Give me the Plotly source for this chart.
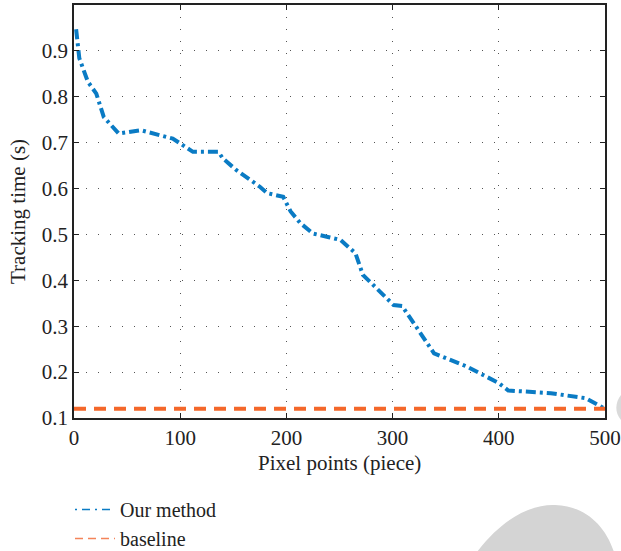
import plotly.graph_objects as go

pixel_points = [2, 5, 13, 21, 28, 42, 63, 93, 112, 136, 140, 153, 175, 182, 197, 204, 213, 225, 240, 251, 265, 272, 301, 309, 339, 370, 400, 409, 449, 482, 500]
our_method = [0.947, 0.884, 0.833, 0.807, 0.756, 0.720, 0.727, 0.709, 0.680, 0.680, 0.666, 0.640, 0.604, 0.590, 0.582, 0.550, 0.525, 0.502, 0.494, 0.488, 0.459, 0.412, 0.346, 0.344, 0.241, 0.212, 0.176, 0.160, 0.154, 0.143, 0.120]
baseline_x = [0, 500]
baseline_y = [0.12, 0.12]

x_ticks = [0, 100, 200, 300, 400, 500]
y_ticks = [0.1, 0.2, 0.3, 0.4, 0.5, 0.6, 0.7, 0.8, 0.9]

FONT = "Liberation Serif"
BLUE = "#0A7BC4"
ORANGE = "#F4672A"

W, H = 621, 551
ML, MR, MT, MB = 74, 16, 5, 133
PW, PH = W - ML - MR, H - MT - MB


def px(x, y):
    return (x - ML) / PW, (H - MB - y) / PH


fig = go.Figure()
fig.add_trace(go.Scatter(x=pixel_points, y=our_method, mode="lines", name="Our method", showlegend=False,
                         line=dict(color=BLUE, width=4, dash="10px,4px,3px,4px")))
fig.add_trace(go.Scatter(x=baseline_x, y=baseline_y, mode="lines", name="baseline", showlegend=False,
                         line=dict(color=ORANGE, width=4, dash="12px,8px")))
# legend entries (thin samples as in the reference)
fig.add_trace(go.Scatter(x=[None], y=[None], mode="lines", name="Our method",
                         line=dict(color=BLUE, width=1.5, dash="2px,5px,8px,5px")))
fig.add_trace(go.Scatter(x=[None], y=[None], mode="lines", name="baseline",
                         line=dict(color="#F4845A", width=1.5, dash="8px,5px")))

axis_common = dict(showline=True, linecolor="#222", linewidth=1.5, mirror="allticks",
                   ticks="inside", ticklen=5, tickcolor="#222",
                   showgrid=True, gridcolor="#555", griddash="1px,11px", gridwidth=1,
                   zeroline=False, tickfont=dict(family=FONT, size=21, color="#222"))

fig.update_xaxes(range=[0, 500], tickvals=x_ticks, **axis_common)
fig.update_yaxes(range=[0.1, 1.0], tickvals=y_ticks, tickformat=".1f", **axis_common)

# axis titles
tx, ty = px(339, 463)
yx, yy = px(18, 212)
annotations = [
    dict(text="Pixel points (piece)", xref="paper", yref="paper", x=tx, y=ty, showarrow=False,
         xanchor="center", yanchor="middle", font=dict(family=FONT, size=21, color="#222")),
    dict(text="Tracking time (s)", xref="paper", yref="paper", x=yx, y=yy, showarrow=False, textangle=-90,
         xanchor="center", yanchor="middle", font=dict(family=FONT, size=21, color="#222")),
]

# grey watermark blobs at bottom right
def path(points):
    pts = [px(a, b) for a, b in points]
    s = "M %f,%f " % pts[0]
    for i in range(1, len(pts), 3):
        s += "C %f,%f %f,%f %f,%f " % (pts[i] + pts[i + 1] + pts[i + 2])
    return s + "Z"

shapes = [
    dict(type="path", xref="paper", yref="paper", layer="above", line=dict(width=0), fillcolor="#D4D4D4",
         path=path([(477, 552), (505, 515), (535, 504), (555, 505), (585, 506), (605, 525), (614, 552)])),
    dict(type="path", xref="paper", yref="paper", layer="above", line=dict(width=0), fillcolor="#DADADA",
         path=path([(622, 394), (616, 400), (613, 412), (622, 421)])),
]

fig.update_layout(
    width=W, height=H,
    margin=dict(l=ML, r=MR, t=MT, b=MB, autoexpand=False),
    plot_bgcolor="white", paper_bgcolor="white",
    font=dict(family=FONT, color="#222"),
    legend=dict(xref="container", yref="container", x=70 / W, y=1 - 490 / H, xanchor="left", yanchor="top",
                font=dict(family=FONT, size=20, color="#222"),
                bgcolor="rgba(0,0,0,0)", tracegroupgap=0, itemwidth=40),
    shapes=shapes,
    annotations=annotations,
    showlegend=True,
)

fig.write_html("out.html", config={"displayModeBar": False},
               post_script="document.body.style.margin='0px';")
